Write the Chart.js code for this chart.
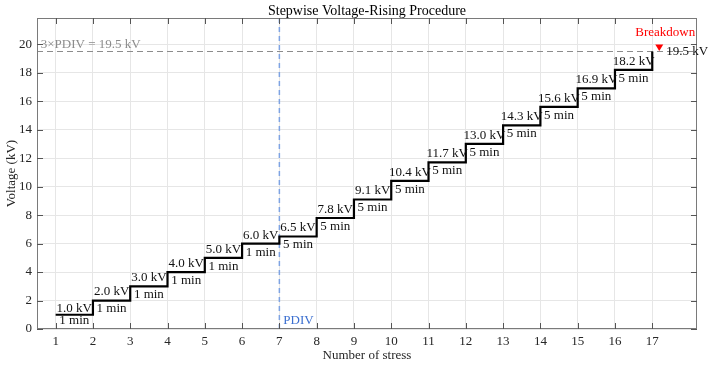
<!DOCTYPE html>
<html>
<head>
<meta charset="utf-8">
<script src="https://cdn.jsdelivr.net/npm/chart.js@4/dist/chart.umd.min.js"></script>
<style>
  body { margin: 0; background: #fff; }
</style>
</head>
<body>
<canvas id="voltage-steps" width="712" height="366"></canvas>
<script>
// stress number where each level starts, and the level held (kV)
const stressNumbers = [1, 2, 3, 4, 5, 6, 7, 8, 9, 10, 11, 12, 13, 14, 15, 16, 17];
const stepVoltages = [1.0, 2.0, 3.0, 4.0, 5.0, 6.0, 6.5, 7.8, 9.1, 10.4, 11.7, 13.0, 14.3, 15.6, 16.9, 18.2, 19.5];
const holdMinutes = [1, 1, 1, 1, 1, 1, 5, 5, 5, 5, 5, 5, 5, 5, 5, 5];
const xTicks = [1, 2, 3, 4, 5, 6, 7, 8, 9, 10, 11, 12, 13, 14, 15, 16, 17];
const yTicks = [0, 2, 4, 6, 8, 10, 12, 14, 16, 18, 20];
const pdivStress = 7;
const limitVoltage = 19.5;
const breakdownVoltage = 19.5;

const canvas = document.getElementById('voltage-steps');
const serif = '"Liberation Serif", "Times New Roman", serif';

function font(size) {
    return size + 'px ' + serif;
}

const annotate = {
    id: 'annotate',
    beforeDatasetsDraw(chart) {
        const { ctx, chartArea: area, scales: { x, y } } = chart;
        ctx.save();
        // 3xPDIV level
        ctx.strokeStyle = '#8c8c8c';
        ctx.lineWidth = 1;
        ctx.setLineDash([6, 4]);
        const yLim = Math.round(y.getPixelForValue(limitVoltage)) + 0.5;
        ctx.beginPath();
        ctx.moveTo(area.left, yLim);
        ctx.lineTo(area.right, yLim);
        ctx.stroke();
        // PDIV stress
        ctx.strokeStyle = '#7ea3e3';
        ctx.lineWidth = 1.5;
        ctx.setLineDash([5, 4]);
        const xP = x.getPixelForValue(pdivStress);
        ctx.beginPath();
        ctx.moveTo(xP, area.top);
        ctx.lineTo(xP, area.bottom);
        ctx.stroke();
        ctx.restore();
    },
    afterDatasetsDraw(chart) {
        const { ctx, chartArea: area, scales: { x, y } } = chart;
        ctx.save();

        // box and inward ticks
        ctx.strokeStyle = '#7a7a7a';
        ctx.lineWidth = 1;
        ctx.strokeRect(area.left + 0.5, area.top + 0.5, area.right - area.left - 1, area.bottom - area.top - 1);
        ctx.strokeStyle = '#555';
        ctx.beginPath();
        for (const t of xTicks) {
            const px = Math.round(x.getPixelForValue(t)) + 0.5;
            ctx.moveTo(px, area.bottom); ctx.lineTo(px, area.bottom - 6);
            ctx.moveTo(px, area.top); ctx.lineTo(px, area.top + 6);
        }
        for (const t of yTicks) {
            const py = Math.round(y.getPixelForValue(t)) + 0.5;
            ctx.moveTo(area.left, py); ctx.lineTo(area.left + 6, py);
            ctx.moveTo(area.right, py); ctx.lineTo(area.right - 6, py);
        }
        ctx.stroke();

        // step labels
        ctx.font = font(13);
        ctx.fillStyle = '#111';
        ctx.textAlign = 'center';
        ctx.textBaseline = 'middle';
        holdMinutes.forEach((mins, i) => {
            const cx = x.getPixelForValue(stressNumbers[i] + 0.5);
            const ly = y.getPixelForValue(stepVoltages[i]);
            const gap = i === 0 ? 6 : 8.5;
            ctx.fillText(stepVoltages[i].toFixed(1) + ' kV', cx, ly - gap);
            ctx.fillText(mins + ' min', cx, ly + gap);
        });

        // reference line labels
        ctx.textAlign = 'left';
        ctx.fillStyle = '#8c8c8c';
        ctx.fillText('3\u00d7PDIV = ' + limitVoltage + ' kV', x.getPixelForValue(0.6), y.getPixelForValue(limitVoltage) - 7);
        ctx.fillStyle = '#3b6fd0';
        ctx.fillText('PDIV', x.getPixelForValue(pdivStress) + 4, area.bottom - 8);

        // breakdown marker
        const bx = x.getPixelForValue(stressNumbers[16]) + 7;
        const by = y.getPixelForValue(breakdownVoltage) - 4;
        ctx.fillStyle = '#ff0000';
        ctx.beginPath();
        ctx.moveTo(bx - 4, by - 3);
        ctx.lineTo(bx + 4, by - 3);
        ctx.lineTo(bx, by + 3.5);
        ctx.closePath();
        ctx.fill();
        ctx.textAlign = 'center';
        ctx.fillText('Breakdown', bx + 6, by - 15);
        ctx.textAlign = 'left';
        ctx.fillStyle = '#111';
        ctx.fillText(breakdownVoltage + ' kV', bx + 7, by + 4);

        // title and axis titles
        ctx.fillStyle = '#000';
        ctx.textAlign = 'center';
        ctx.font = font(14);
        const midX = (area.left + area.right) / 2;
        ctx.fillText('Stepwise Voltage-Rising Procedure', midX, 11);
        ctx.font = font(13);
        ctx.fillStyle = '#262626';
        ctx.fillText('Number of stress', midX, 356);
        ctx.translate(12, (area.top + area.bottom) / 2);
        ctx.rotate(-Math.PI / 2);
        ctx.fillText('Voltage (kV)', 0, 0);
        ctx.restore();
    }
};

new Chart(canvas, {
    type: 'line',
    data: {
        datasets: [{
            data: stressNumbers.map((n, i) => ({ x: n, y: stepVoltages[i] })),
            stepped: true,
            borderColor: '#000',
            borderWidth: 2.2,
            pointRadius: 0,
            fill: false
        }]
    },
    options: {
        responsive: false,
        animation: false,
        events: [],
        layout: { padding: { top: 18, right: 15, left: 0, bottom: 0 } },
        plugins: {
            legend: { display: false },
            title: { display: false },
            tooltip: { enabled: false }
        },
        scales: {
            x: {
                type: 'linear',
                min: 0.5,
                max: 18.2,
                afterBuildTicks: scale => { scale.ticks = xTicks.map(v => ({ value: v })); },
                afterFit: scale => { scale.height = 37; },
                grid: { color: '#e6e6e6', drawTicks: false },
                border: { display: false },
                ticks: { font: { family: serif, size: 13 }, color: '#262626', padding: 5 }
            },
            y: {
                min: 0,
                max: 21.85,
                afterBuildTicks: scale => { scale.ticks = yTicks.map(v => ({ value: v })); },
                afterFit: scale => { scale.width = 37; },
                grid: { color: '#e6e6e6', drawTicks: false },
                border: { display: false },
                ticks: { font: { family: serif, size: 13 }, color: '#262626', padding: 5 }
            }
        }
    },
    plugins: [annotate]
});
</script>
</body>
</html>
